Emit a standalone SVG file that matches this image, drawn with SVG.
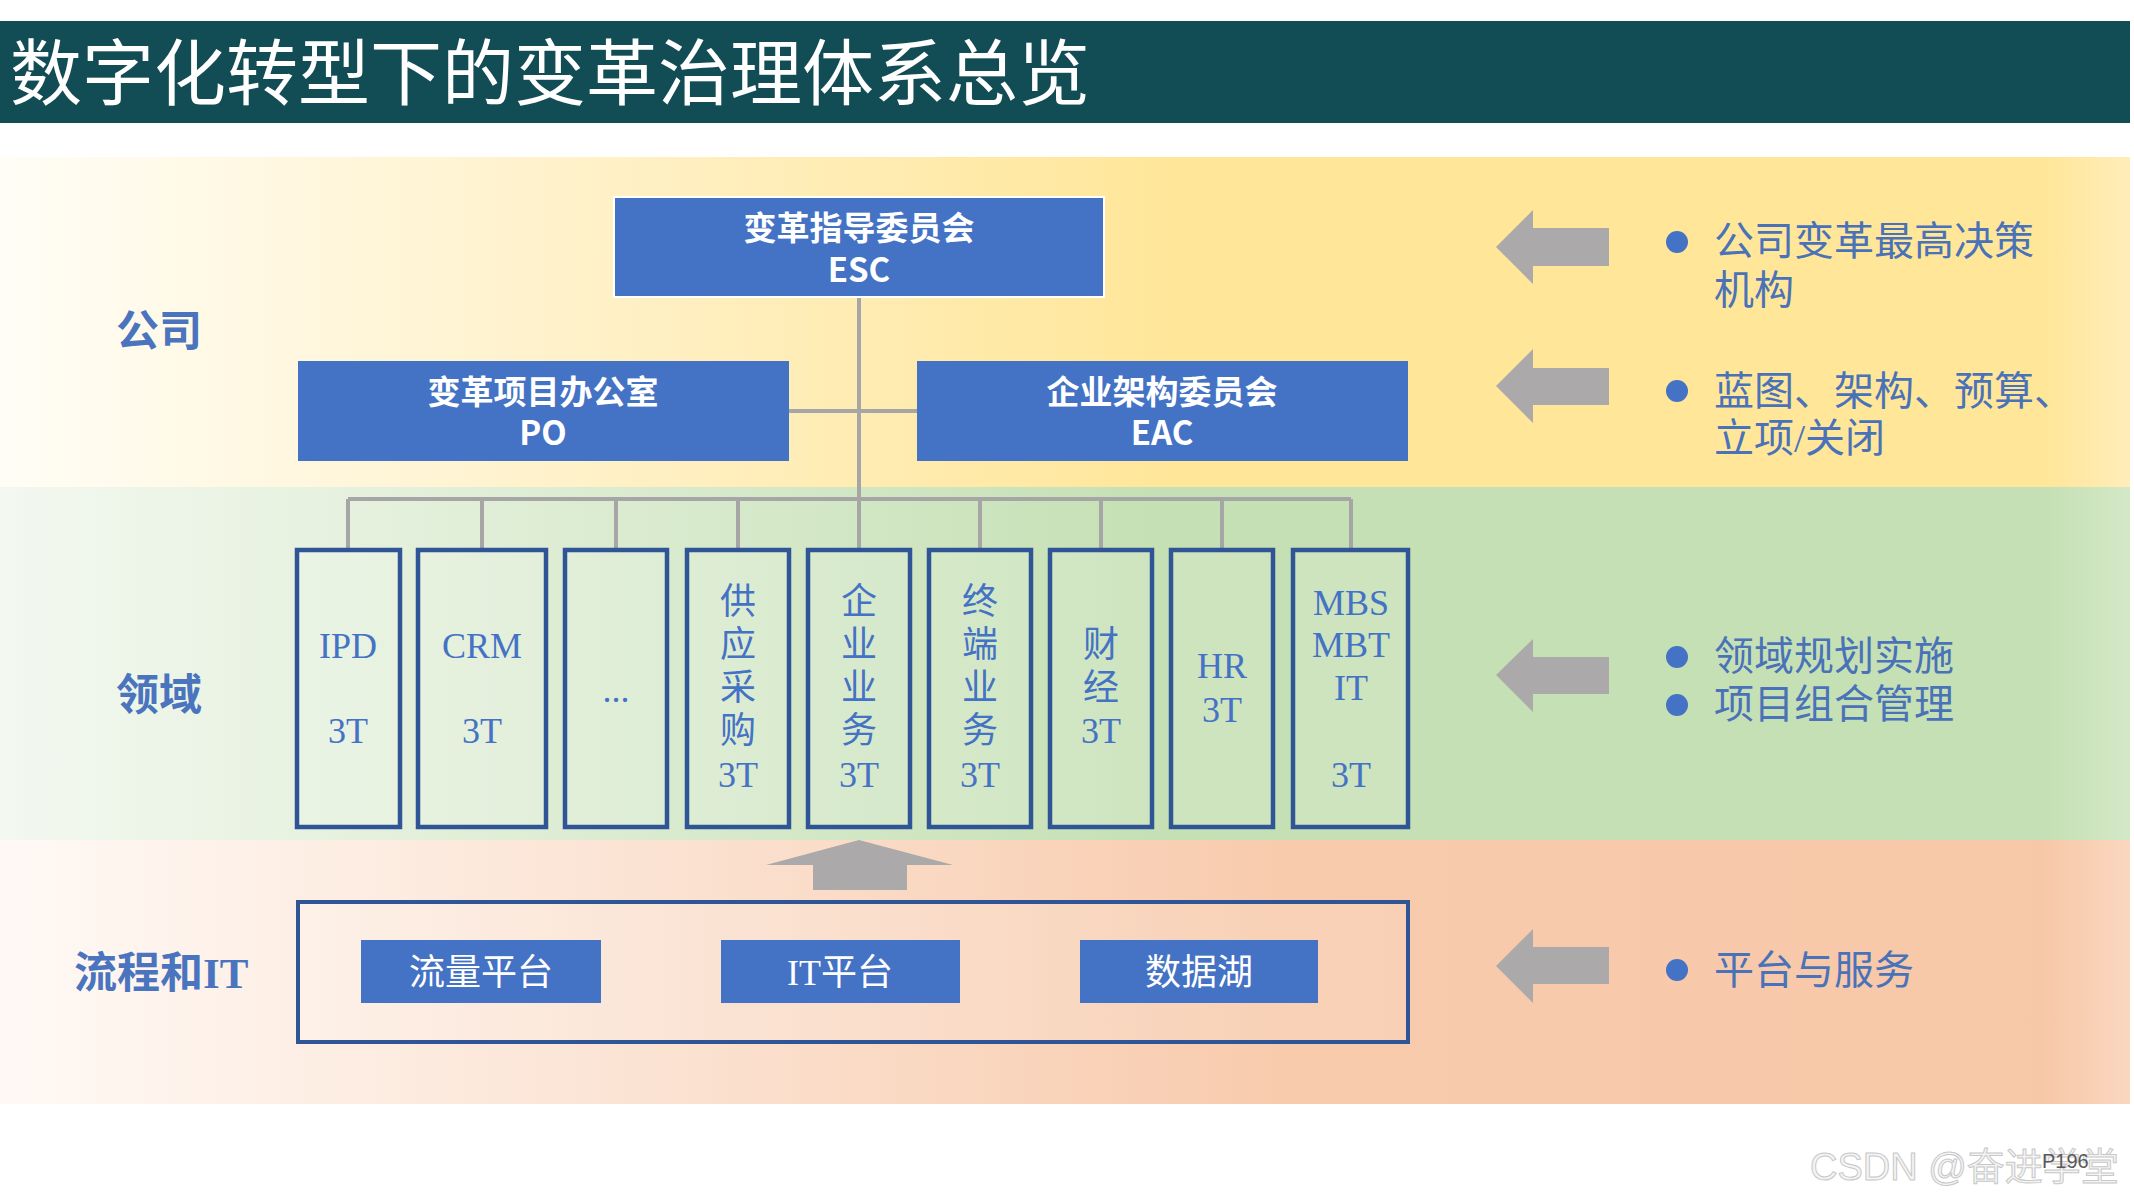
<svg xmlns="http://www.w3.org/2000/svg" width="2134" height="1200" viewBox="0 0 2134 1200">
<defs>
<linearGradient id="gY" x1="0" y1="0" x2="1" y2="0">
<stop offset="0" stop-color="#FFFDF6"/><stop offset="0.3" stop-color="#FFF0C4"/><stop offset="0.55" stop-color="#FFE699"/><stop offset="0.96" stop-color="#FFE699"/><stop offset="1" stop-color="#FFEDBA"/>
</linearGradient>
<linearGradient id="gG" x1="0" y1="0" x2="1" y2="0">
<stop offset="0" stop-color="#F3F8F0"/><stop offset="0.3" stop-color="#DAEBCF"/><stop offset="0.55" stop-color="#C5E0B4"/><stop offset="0.96" stop-color="#C5E0B4"/><stop offset="1" stop-color="#D4E8C7"/>
</linearGradient>
<linearGradient id="gP" x1="0" y1="0" x2="1" y2="0">
<stop offset="0" stop-color="#FFF9F5"/><stop offset="0.3" stop-color="#FBE3D3"/><stop offset="0.6" stop-color="#F8CBAD"/><stop offset="0.96" stop-color="#F7C8A8"/><stop offset="1" stop-color="#FAD7BF"/>
</linearGradient>
<style>
.blk{fill:#4472C4;}
.hd{font-family:"Noto Sans CJK SC","Liberation Sans",sans-serif;font-weight:bold;font-size:33px;fill:#FFFFFF;text-anchor:middle;}
.dom{fill:#FFFFFF;fill-opacity:0.15;stroke:#2F5597;stroke-width:4.5;}
.dt{font-family:"Liberation Serif","Noto Sans CJK SC",serif;font-size:36px;fill:#4472C4;text-anchor:middle;}
.pt{font-family:"Liberation Serif","Noto Sans CJK SC",serif;font-size:36px;fill:#FFFFFF;text-anchor:middle;}
.lbl{font-family:"Liberation Serif","Noto Sans CJK SC",serif;font-size:43px;font-weight:bold;fill:#4A74BE;}
.rt{font-family:"Liberation Serif","Noto Sans CJK SC",serif;font-size:40px;fill:#4A72B8;}
.dot{fill:#4472C4;}
.ga{fill:#ABA9A9;}
.cn{stroke:#A6A6A6;stroke-width:4;fill:none;}
</style>
</defs>
<rect x="0" y="0" width="2134" height="1200" fill="#FFFFFF"/>
<g id="bands">
<rect x="0" y="157" width="2130" height="330" fill="url(#gY)"/>
<rect x="0" y="487" width="2130" height="353" fill="url(#gG)"/>
<rect x="0" y="840" width="2130" height="264" fill="url(#gP)"/>
</g>
<g id="title">
<rect x="0" y="21" width="2130" height="102" fill="#124C54"/>
<text x="10" y="99" font-family="'Noto Sans CJK SC',sans-serif" font-size="72" fill="#FFFFFF">数字化转型下的变革治理体系总览</text>
</g>
<g id="layer-labels">
<text class="lbl" x="116" y="346">公司</text>
<text class="lbl" x="116" y="710">领域</text>
<text class="lbl" x="74" y="988">流程和IT</text>
</g>
<g id="connectors">
<path class="cn" d="M859,297 V548"/>
<path class="cn" d="M789,411 H917"/>
<path class="cn" d="M348,499 H1351"/>
<path class="cn" d="M348,499 V548 M482,499 V548 M616,499 V548 M738,499 V548 M980,499 V548 M1101,499 V548 M1222,499 V548 M1351,499 V548"/>
</g>
<g id="esc">
<rect class="blk" x="614" y="197" width="490" height="100" stroke="#FFFFFF" stroke-width="2"/>
<text class="hd" x="859" y="240">变革指导委员会</text>
<text class="hd" x="859" y="282">ESC</text>
</g>
<g id="po">
<rect class="blk" x="298" y="361" width="491" height="100"/>
<text class="hd" x="543" y="404">变革项目办公室</text>
<text class="hd" x="543" y="445">PO</text>
</g>
<g id="eac">
<rect class="blk" x="917" y="361" width="491" height="100"/>
<text class="hd" x="1162" y="404">企业架构委员会</text>
<text class="hd" x="1162" y="445">EAC</text>
</g>
<g id="d-ipd">
<rect class="dom" x="297" y="550" width="103" height="277"/>
<text class="dt" x="348" y="658">IPD</text>
<text class="dt" x="348" y="743">3T</text>
</g>
<g id="d-crm">
<rect class="dom" x="418" y="550" width="128" height="277"/>
<text class="dt" x="482" y="658">CRM</text>
<text class="dt" x="482" y="743">3T</text>
</g>
<g id="d-etc">
<rect class="dom" x="565" y="550" width="102" height="277"/>
<text class="dt" x="616" y="702" font-size="28">...</text>
</g>
<g id="d-scm">
<rect class="dom" x="687" y="550" width="102" height="277"/>
<text class="dt" x="738" y="614">供</text>
<text class="dt" x="738" y="657">应</text>
<text class="dt" x="738" y="700">采</text>
<text class="dt" x="738" y="743">购</text>
<text class="dt" x="738" y="787">3T</text>
</g>
<g id="d-ent">
<rect class="dom" x="808" y="550" width="102" height="277"/>
<text class="dt" x="859" y="614">企</text>
<text class="dt" x="859" y="657">业</text>
<text class="dt" x="859" y="700">业</text>
<text class="dt" x="859" y="743">务</text>
<text class="dt" x="859" y="787">3T</text>
</g>
<g id="d-term">
<rect class="dom" x="929" y="550" width="102" height="277"/>
<text class="dt" x="980" y="614">终</text>
<text class="dt" x="980" y="657">端</text>
<text class="dt" x="980" y="700">业</text>
<text class="dt" x="980" y="743">务</text>
<text class="dt" x="980" y="787">3T</text>
</g>
<g id="d-fin">
<rect class="dom" x="1050" y="550" width="102" height="277"/>
<text class="dt" x="1101" y="657">财</text>
<text class="dt" x="1101" y="700">经</text>
<text class="dt" x="1101" y="743">3T</text>
</g>
<g id="d-hr">
<rect class="dom" x="1171" y="550" width="102" height="277"/>
<text class="dt" x="1222" y="678">HR</text>
<text class="dt" x="1222" y="722">3T</text>
</g>
<g id="d-mbs">
<rect class="dom" x="1293" y="550" width="115" height="277"/>
<text class="dt" x="1351" y="615">MBS</text>
<text class="dt" x="1351" y="657">MBT</text>
<text class="dt" x="1351" y="700">IT</text>
<text class="dt" x="1351" y="787">3T</text>
</g>
<g id="up-arrow">
<path class="ga" d="M859,840 L953,865 L907,865 L907,890 L813,890 L813,865 L766,865 Z"/>
</g>
<g id="platform">
<rect x="298" y="902" width="1110" height="140" fill="#FFFFFF" fill-opacity="0.12" stroke="#2F5597" stroke-width="4"/>
</g>
<g id="p-flow">
<rect class="blk" x="361" y="940" width="240" height="63"/>
<text class="pt" x="481" y="985">流量平台</text>
</g>
<g id="p-it">
<rect class="blk" x="721" y="940" width="239" height="63"/>
<text class="pt" x="840" y="985">IT平台</text>
</g>
<g id="p-lake">
<rect class="blk" x="1080" y="940" width="238" height="63"/>
<text class="pt" x="1199" y="985">数据湖</text>
</g>
<g id="side-arrows">
<path class="ga" d="M1496,247 L1533,210 L1533,228 L1609,228 L1609,266 L1533,266 L1533,284 Z"/>
<path class="ga" d="M1496,386 L1533,349 L1533,368 L1609,368 L1609,405 L1533,405 L1533,423 Z"/>
<path class="ga" d="M1496,675 L1533,639 L1533,657 L1609,657 L1609,694 L1533,694 L1533,712 Z"/>
<path class="ga" d="M1496,966 L1533,929 L1533,947 L1609,947 L1609,984 L1533,984 L1533,1003 Z"/>
</g>
<g id="side-notes">
<circle class="dot" cx="1677" cy="242" r="11"/>
<text class="rt" x="1714" y="255">公司变革最高决策</text>
<text class="rt" x="1714" y="304">机构</text>
<circle class="dot" cx="1677" cy="391" r="11"/>
<text class="rt" x="1714" y="405">蓝图、架构、预算、</text>
<text class="rt" x="1714" y="452">立项/关闭</text>
<circle class="dot" cx="1677" cy="657" r="11"/>
<text class="rt" x="1714" y="670">领域规划实施</text>
<circle class="dot" cx="1677" cy="705" r="11"/>
<text class="rt" x="1714" y="718">项目组合管理</text>
<circle class="dot" cx="1677" cy="970" r="11"/>
<text class="rt" x="1714" y="984">平台与服务</text>
</g>
<g id="footer">
<text x="1810" y="1180" font-family="'Liberation Sans','Noto Sans CJK SC',sans-serif" font-size="38" fill="#F4F4F4" stroke="#C8C8C8" stroke-width="1">CSDN @奋进学堂</text>
<text x="2042" y="1168" font-family="'Liberation Sans',sans-serif" font-size="20" fill="#595959">P196</text>
</g>
</svg>
